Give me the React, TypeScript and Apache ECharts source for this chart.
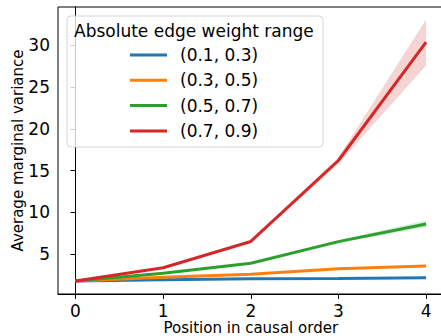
import React, { useEffect, useRef } from "react";
import * as echarts from "echarts";

const positions = [0, 1, 2, 3, 4];
const seriesNames = ["(0.1, 0.3)", "(0.3, 0.5)", "(0.5, 0.7)", "(0.7, 0.9)"];
const colors = ["#1f77b4", "#ff7f0e", "#2ca02c", "#d62728"];

const meanBlue = [1.75, 1.91, 2.03, 2.07, 2.15];
const meanOrange = [1.75, 2.2, 2.56, 3.23, 3.56];
const meanGreen = [1.75, 2.68, 3.88, 6.48, 8.6];
const meanRed = [1.75, 3.35, 6.5, 16.2, 30.4];

const lowBlue = [1.7, 1.84, 1.95, 1.98, 2.05];
const highBlue = [1.8, 1.98, 2.11, 2.16, 2.25];
const lowOrange = [1.7, 2.13, 2.47, 3.13, 3.45];
const highOrange = [1.8, 2.27, 2.65, 3.33, 3.67];
const lowGreen = [1.7, 2.6, 3.78, 6.33, 8.2];
const highGreen = [1.8, 2.76, 3.98, 6.63, 9.0];
const lowRed = [1.7, 3.25, 6.35, 15.8, 27.6];
const highRed = [1.8, 3.45, 6.65, 16.6, 33.1];

const xTicks = [0, 1, 2, 3, 4];
const yTicks = [5, 10, 15, 20, 25, 30];

const means = [meanBlue, meanOrange, meanGreen, meanRed];
const lows = [lowBlue, lowOrange, lowGreen, lowRed];
const highs = [highBlue, highOrange, highGreen, highRed];

const FONT = "DejaVu Sans";

export default function App() {
  const ref = useRef<HTMLDivElement>(null);
  useEffect(() => {
    if (!ref.current) return;
    const chart = echarts.init(ref.current, undefined, { renderer: "svg" });
    const series: any[] = [];
    for (let i = 0; i < 4; i++) {
      const low = lows[i];
      const high = highs[i];
      series.push({
        type: "custom",
        name: "band-" + i,
        silent: true,
        z: 1,
        data: [[0, low[0]]],
        renderItem: (_params: any, api: any) => {
          const pts: number[][] = [];
          for (let j = 0; j < positions.length; j++) pts.push(api.coord([positions[j], high[j]]));
          for (let j = positions.length - 1; j >= 0; j--) pts.push(api.coord([positions[j], low[j]]));
          return {
            type: "polygon",
            shape: { points: pts },
            style: { fill: colors[i], opacity: 0.2 },
          };
        },
      });
    }
    for (let i = 0; i < 4; i++) {
      series.push({
        type: "line",
        name: seriesNames[i],
        data: positions.map((p, j) => [p, means[i][j]]),
        lineStyle: { color: colors[i], width: 3 },
        itemStyle: { color: colors[i] },
        symbol: "none",
        z: 2,
      });
    }
    chart.setOption({
      animation: false,
      backgroundColor: "#fff",
      grid: {
        left: 58,
        top: 7,
        width: 385.6,
        height: 287,
        show: true,
        borderColor: "#000",
        borderWidth: 1,
        containLabel: false,
        outerBoundsMode: "none",
      },
      xAxis: {
        type: "value",
        min: -0.2,
        max: 4.2,
        splitLine: { show: false },
        axisLine: { show: true, lineStyle: { color: "#000", width: 1 } },
        axisTick: { show: true, length: 5, lineStyle: { color: "#000" }, customValues: xTicks },
        axisLabel: {
          customValues: xTicks,
          color: "#000",
          fontSize: 17,
          lineHeight: 17,
          fontFamily: FONT,
          margin: 8,
        },
        name: "Position in causal order",
        nameLocation: "middle",
        nameMoveOverlap: false,
        nameGap: 27,
        nameTextStyle: { fontSize: 15, fontFamily: FONT, color: "#000", lineHeight: 14 },
      },
      yAxis: {
        type: "value",
        min: 0.2,
        max: 34.6,
        splitLine: { show: false },
        axisLine: { show: true, lineStyle: { color: "#000", width: 1 } },
        axisTick: { show: true, length: 5, lineStyle: { color: "#000" }, customValues: yTicks },
        axisLabel: {
          customValues: yTicks,
          color: "#000",
          fontSize: 17,
          fontFamily: FONT,
          margin: 8,
        },
        name: "Average marginal variance",
        nameLocation: "middle",
        nameRotate: 90,
        nameMoveOverlap: false,
        nameGap: 33,
        nameTextStyle: { fontSize: 15, fontFamily: FONT, color: "#000", lineHeight: 15 },
      },
      legend: {
        data: seriesNames,
        orient: "vertical",
        left: 130,
        top: 45,
        padding: 0,
        icon: "rect",
        itemWidth: 37,
        itemHeight: 3,
        itemGap: 5.3,
        textStyle: { fontSize: 17, fontFamily: FONT, color: "#000", lineHeight: 20, padding: [0, 0, 0, 8] },
        z: 10,
      },
      graphic: [
        {
          type: "rect",
          shape: { x: 67, y: 16, width: 256, height: 131, r: 4 },
          style: { fill: "rgba(255,255,255,0.8)", stroke: "#d6d6d6", lineWidth: 1 },
          z: 5,
        },
        {
          type: "text",
          x: 74,
          y: 30.5,
          style: {
            text: "Absolute edge weight range",
            fontSize: 17,
            fontFamily: FONT,
            fill: "#000",
            verticalAlign: "middle",
          },
          z: 6,
        },
      ],
      series,
    });
    return () => chart.dispose();
  }, []);
  return (
    <div style={{ position: "fixed", left: 0, top: 0, width: 441, height: 336, overflow: "hidden", background: "#fff" }}>
      <div ref={ref} style={{ width: 445, height: 336 }} />
    </div>
  );
}
